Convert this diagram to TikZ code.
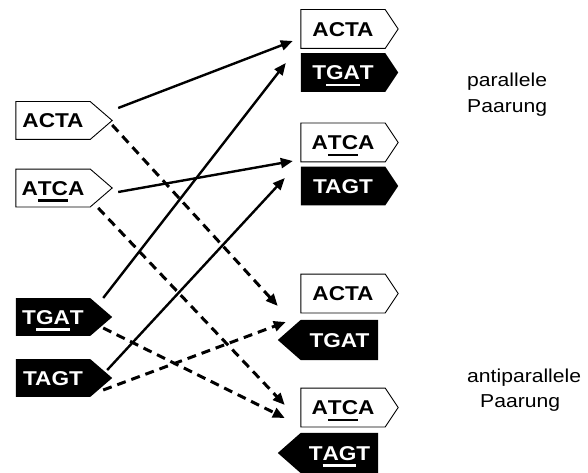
\documentclass[tikz,border=0pt]{standalone}
\usepackage{fontspec}
\usepackage{graphicx}
\setmainfont{Liberation Sans}
\usetikzlibrary{calc,arrows.meta}
\pgfdeclarelayer{bg}
\pgfsetlayers{bg,main}
\newcommand\sx[1]{\scalebox{1.13}[1]{#1}}
\newcommand\ulx[1]{\setbox0\hbox{#1}\rlap{\smash{\rule[-6.5pt]{\wd0}{2.6pt}}}\box0}
\newcommand\tipR[3]{\path[#2] (#1.north west) -- (#1.north east) -- ($(#1.east)+(#3,0)$) -- (#1.south east) -- (#1.south west) -- cycle;}
\newcommand\tipL[3]{\path[#2] (#1.north east) -- (#1.north west) -- ($(#1.west)+(-#3,0)$) -- (#1.south west) -- (#1.south east) -- cycle;}
\tikzset{
  seqbox/.style={inner sep=0pt, text height=14.4pt, text depth=0pt,
    font=\bfseries\fontsize{20}{24}\selectfont},
  lbox/.style={seqbox, minimum width=74pt, minimum height=37.5pt},
  rbox/.style={seqbox, minimum width=84pt, minimum height=38.5pt},
  rlbox/.style={seqbox, minimum width=77pt, minimum height=40pt},
  wtxt/.style={text=black},
  btxt/.style={text=white},
  wshape/.style={draw=black, line width=0.9pt, fill=white, line join=miter},
  bshape/.style={fill=black},
  sol/.style={line width=2.4pt, -{Triangle[length=12pt,width=10pt]}},
  dsh/.style={line width=3pt, dash pattern=on 9pt off 6pt, -{Triangle[length=12pt,width=10pt]}},
  lab/.style={font=\fontsize{18.7}{22}\selectfont, inner sep=0pt}
}
\begin{document}
\begin{tikzpicture}[x=1pt,y=-1pt]
\useasboundingbox (0,0) rectangle (588,473);
% left boxes
\node[lbox,wtxt] (L1) at (53,120.5) {\sx{ACTA}};
\node[lbox,wtxt] (L2) at (53,188) {\sx{A\ulx{TC}A}};
\node[lbox,btxt] (L3) at (53,317) {\sx{T\ulx{GA}T}};
\node[lbox,btxt] (L4) at (53,378) {\sx{TAGT}};
% right top
\node[rbox,wtxt] (R1) at (343,29) {\sx{ACTA}};
\node[rbox,btxt] (R2) at (343,72.5) {\sx{T\ulx{GA}T}};
\node[rbox,wtxt] (R3) at (343,142.5) {\sx{A\ulx{TC}A}};
\node[rbox,btxt] (R4) at (343,186) {\sx{TAGT}};
% right bottom
\node[rbox,wtxt] (R5) at (343,293.5) {\sx{ACTA}};
\node[rlbox,btxt] (R6) at (339.5,340) {\sx{TGAT}};
\node[rbox,wtxt] (R7) at (343,407.5) {\sx{A\ulx{TC}A}};
\node[rlbox,btxt] (R8) at (339.5,453) {\sx{T\ulx{AG}T}};
\begin{pgfonlayer}{bg}
\tipR{L1}{wshape}{22}
\tipR{L2}{wshape}{22}
\tipR{L3}{bshape}{22}
\tipR{L4}{bshape}{22}
\tipR{R1}{wshape}{13}
\tipR{R2}{bshape}{13}
\tipR{R3}{wshape}{13}
\tipR{R4}{bshape}{13}
\tipR{R5}{wshape}{13}
\tipL{R6}{bshape}{23}
\tipR{R7}{wshape}{13}
\tipL{R8}{bshape}{23}
\end{pgfonlayer}
% solid connectors
\draw[sol] ($(L1.east)+(28,-12.5)$) -- ($(R1.west)+(-8,12)$);
\draw[sol] ($(L2.east)+(28,4)$) -- ($(R3.west)+(-8,18.5)$);
\draw[sol] ($(L3.east)+(13,-19)$) -- ($(R2.west)+(-15,-9.5)$);
\draw[sol] ($(L4.east)+(17,-8)$) -- ($(R4.west)+(-16,-8)$);
% dashed connectors
\draw[dsh] ($(L1.east)+(22,4.5)$) -- ($(R5.west)+(-23,12.5)$);
\draw[dsh] ($(L2.east)+(8,20)$) -- ($(R7.west)+(-16,-2.5)$);
\draw[dsh] ($(L3.east)+(13,11)$) -- ($(R7.west)+(-16,10.5)$);
\draw[dsh] ($(L4.east)+(13,12)$) -- ($(R6.west)+(-15,-18)$);
% labels
\node[lab,anchor=base west] (p1) at (467,87) {\sx{parallele}};
\node[lab,anchor=base west] (p2) at (467,113) {\sx{Paarung}};
\node[lab,anchor=base west] (a1) at (467,382) {\sx{antiparallele}};
\node[lab,anchor=base west] (a2) at (480,407) {\sx{Paarung}};
\end{tikzpicture}
\end{document}
